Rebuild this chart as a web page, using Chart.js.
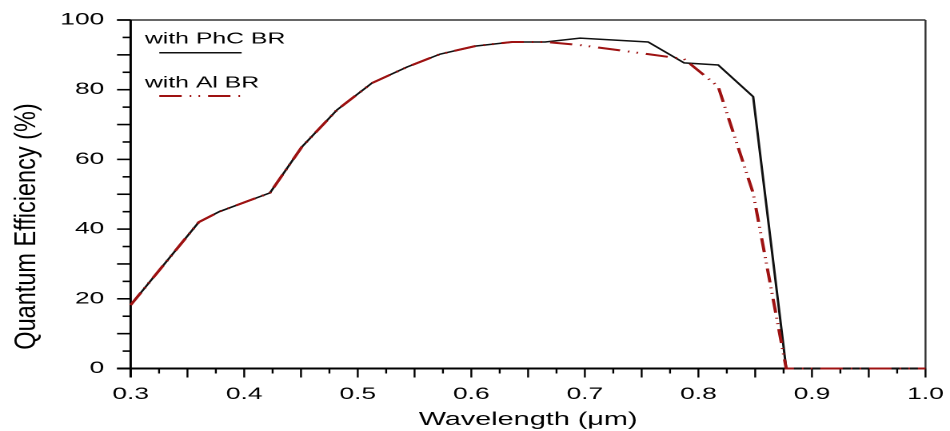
<!DOCTYPE html>
<html>
<head>
<meta charset="utf-8">
<script src="https://cdn.jsdelivr.net/npm/chart.js@4"></script>
<style>
  html, body { margin: 0; padding: 0; background: #fff; overflow: hidden; }
  #wrap {
    width: 594px;
    height: 431px;
    transform: scaleX(1.5993);
    transform-origin: 0 0;
  }
</style>
</head>
<body>
<div id="wrap"><canvas id="qeChart"></canvas></div>
<script>
// wavelength (um) and quantum efficiency (%)
const wlPhc = [0.300, 0.360, 0.378, 0.4227, 0.4508, 0.4817, 0.5125, 0.5434, 0.5724, 0.6033, 0.6359, 0.665, 0.6958, 0.7557, 0.7874, 0.8174, 0.8482, 0.8773, 0.90, 0.95, 1.0];
const qePhc = [18.2, 42.0, 45.0, 50.4, 63.6, 74.2, 81.9, 86.5, 90.2, 92.5, 93.7, 93.7, 94.8, 93.7, 87.7, 87.1, 78.0, 0, 0, 0, 0];

const wlAl = [0.300, 0.360, 0.378, 0.4227, 0.4508, 0.4817, 0.5125, 0.5434, 0.5724, 0.6033, 0.6359, 0.665, 0.6958, 0.726, 0.7557, 0.7874, 0.8174, 0.8482, 0.8773, 0.90, 0.95, 1.0];
const qeAl = [18.2, 42.0, 45.0, 50.4, 63.6, 74.2, 81.9, 86.5, 90.2, 92.5, 93.7, 93.7, 92.8, 91.5, 90.2, 88.8, 80.9, 50.3, 0, 0, 0, 0];

const xRange = [0.3, 1.0];
const yRange = [0, 100];

const AL_DASH = [14, 5, 1, 4.5, 1, 5];

function toPoints(xs, ys) {
  return xs.map((x, i) => ({ x: x, y: ys[i] }));
}

// axes box, tick marks, legend and the y title
const framePlugin = {
  id: "frame",
  beforeDatasetsDraw(chart) {
    const { ctx, chartArea: a, scales } = chart;
    const x = scales.x;
    const y = scales.y;
    ctx.save();
    ctx.lineCap = "butt";

    // top and right border
    ctx.strokeStyle = "#333";
    ctx.lineWidth = 1.5;
    ctx.beginPath();
    ctx.moveTo(a.left - 8.5, a.top);
    ctx.lineTo(a.right, a.top);
    ctx.stroke();
    ctx.lineWidth = 1.2;
    ctx.beginPath();
    ctx.moveTo(a.right, a.top);
    ctx.lineTo(a.right, a.bottom);
    ctx.stroke();

    // x ticks every 0.025
    ctx.strokeStyle = "#000";
    ctx.lineWidth = 1.2;
    for (let i = 0; i <= 28; i++) {
      const v = xRange[0] + i * 0.025;
      const px = x.getPixelForValue(v);
      const len = i % 2 === 0 ? 9 : 5;
      ctx.beginPath();
      ctx.moveTo(px, a.bottom);
      ctx.lineTo(px, a.bottom + len);
      ctx.stroke();
    }

    // y ticks every 5
    ctx.lineWidth = 1.6;
    for (let i = 0; i <= 20; i++) {
      const v = i * 5;
      const py = y.getPixelForValue(v);
      const len = i % 2 === 0 ? 8.5 : 5;
      ctx.beginPath();
      ctx.moveTo(a.left, py);
      ctx.lineTo(a.left - len, py);
      ctx.stroke();
    }

    // axis lines
    ctx.lineWidth = 2;
    ctx.beginPath();
    ctx.moveTo(a.left - 8.5, a.bottom);
    ctx.lineTo(a.right, a.bottom);
    ctx.stroke();
    ctx.lineWidth = 1.5;
    ctx.beginPath();
    ctx.moveTo(a.left, a.top);
    ctx.lineTo(a.left, a.bottom + 9);
    ctx.stroke();
    ctx.restore();
  },
  afterDraw(chart) {
    const { ctx } = chart;
    const ds = chart.data.datasets;
    ctx.save();

    // legend
    ctx.fillStyle = "#000";
    ctx.font = "15.5px 'Liberation Sans', Arial, sans-serif";
    ctx.textBaseline = "alphabetic";
    ctx.fillText(ds[0].label, 90.6, 43.3);
    ctx.fillText(ds[1].label, 90.6, 87.3);

    ctx.strokeStyle = ds[0].borderColor;
    ctx.lineWidth = ds[0].borderWidth;
    ctx.beginPath();
    ctx.moveTo(99.6, 52.7);
    ctx.lineTo(151.1, 52.7);
    ctx.stroke();

    ctx.strokeStyle = ds[1].borderColor;
    ctx.lineWidth = ds[1].borderWidth;
    ctx.setLineDash(ds[1].borderDash);
    ctx.beginPath();
    ctx.moveTo(99.6, 96);
    ctx.lineTo(151.1, 96);
    ctx.stroke();
    ctx.setLineDash([]);

    // y title, squeezed across so it stays thin after the page stretch
    ctx.translate(16.7, 226.5);
    ctx.rotate(-Math.PI / 2);
    ctx.scale(1, 0.78);
    ctx.font = "23.5px 'Liberation Sans', Arial, sans-serif";
    ctx.textAlign = "center";
    ctx.textBaseline = "middle";
    ctx.fillText("Quantum Efficiency (%)", 0, 0);
    ctx.restore();
  },
};

document.addEventListener("DOMContentLoaded", function () {
  const ctx = document.getElementById("qeChart").getContext("2d");

  new Chart(ctx, {
    type: "line",
    data: {
      datasets: [
        {
          label: "with PhC BR",
          data: toPoints(wlPhc, qePhc),
          borderColor: "#111",
          borderWidth: 1.5,
          pointRadius: 0,
          tension: 0,
          clip: false,
          order: 2,
        },
        {
          label: "with Al BR",
          data: toPoints(wlAl, qeAl),
          borderColor: "#9e1212",
          borderWidth: 2,
          borderDash: AL_DASH,
          pointRadius: 0,
          tension: 0,
          clip: false,
          order: 1,
        },
      ],
    },
    plugins: [framePlugin],
    options: {
      responsive: true,
      maintainAspectRatio: false,
      animation: false,
      devicePixelRatio: 2,
      layout: {
        padding: { top: 20, right: 15.3, left: 0, bottom: 0 },
      },
      plugins: {
        legend: { display: false },
        tooltip: { enabled: false },
      },
      scales: {
        x: {
          type: "linear",
          min: xRange[0],
          max: xRange[1],
          afterFit: function (scale) {
            scale.height = 62.5;
            scale.paddingLeft = 0;
            scale.paddingRight = 0;
          },
          border: { display: false },
          grid: { display: false, drawTicks: false },
          ticks: {
            stepSize: 0.1,
            padding: 16,
            color: "#000",
            maxRotation: 0,
            font: { family: "'Liberation Sans', Arial, sans-serif", size: 16.5 },
            callback: function (value) {
              return value.toFixed(1);
            },
          },
          title: {
            display: true,
            text: "Wavelength (\u03bcm)",
            color: "#000",
            font: { family: "'Liberation Sans', Arial, sans-serif", size: 18 },
            padding: { top: 0, bottom: 0 },
          },
        },
        y: {
          min: yRange[0],
          max: yRange[1],
          afterFit: function (scale) {
            scale.width = 81.7;
            scale.paddingTop = 0;
            scale.paddingBottom = 0;
          },
          border: { display: false },
          grid: { display: false, drawTicks: false },
          ticks: {
            stepSize: 20,
            padding: 16.5,
            color: "#000",
            font: { family: "'Liberation Sans', Arial, sans-serif", size: 16.5 },
          },
        },
      },
    },
  });
});
</script>
</body>
</html>
